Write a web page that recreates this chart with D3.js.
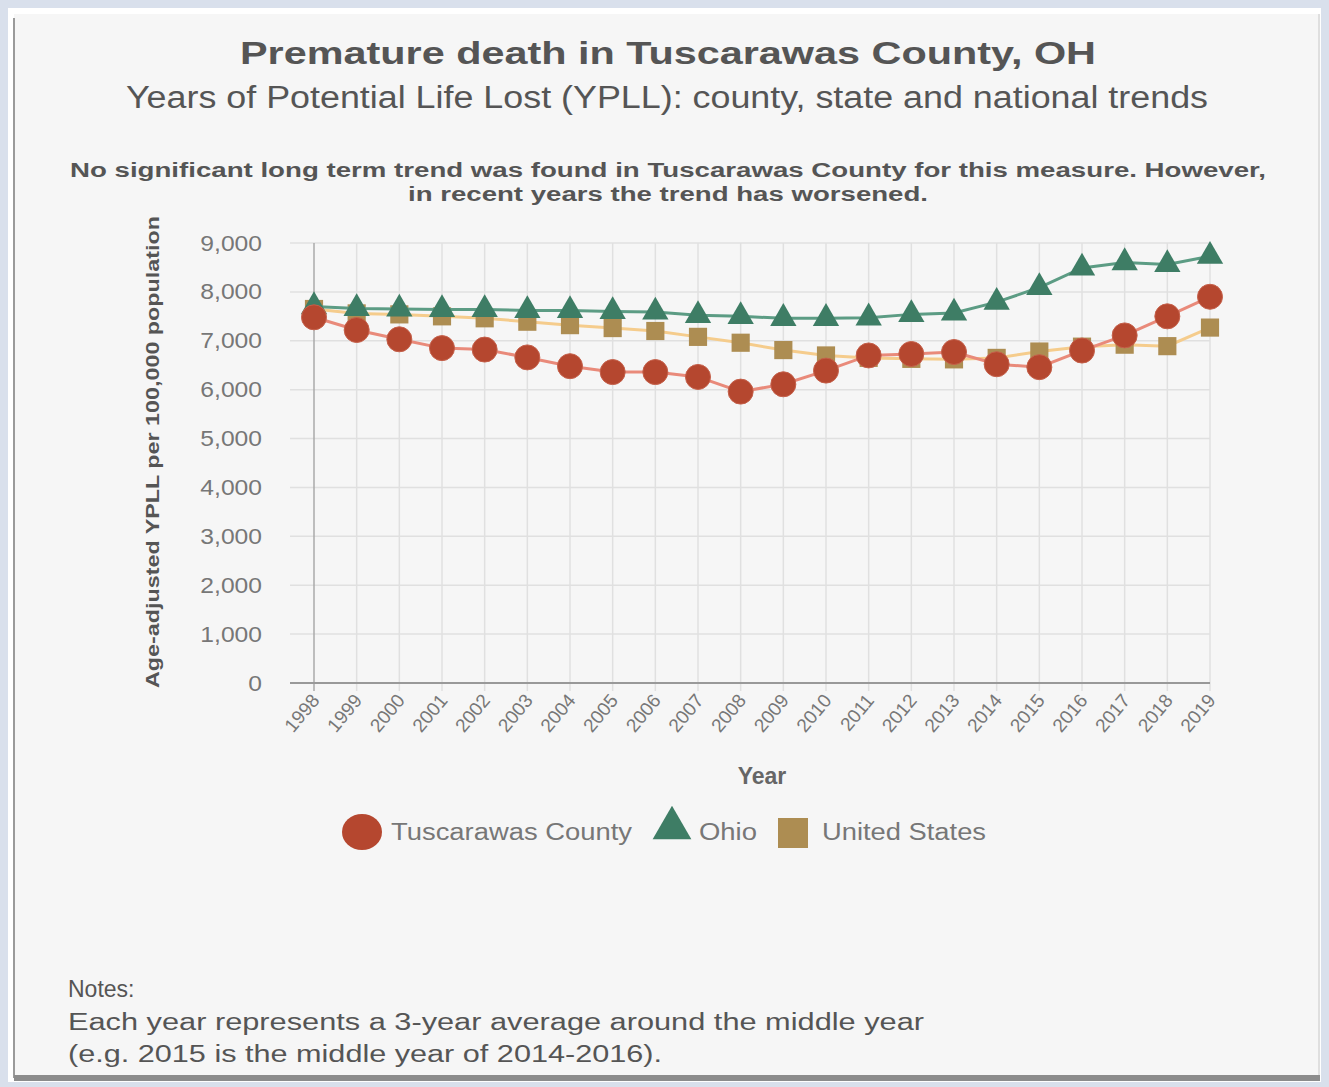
<!DOCTYPE html>
<html>
<head>
<meta charset="utf-8">
<script src="https://cdn.jsdelivr.net/npm/d3@7"></script>
<style>
  body { margin: 0; background: #d9e0ec; }
  svg { display: block; }
  text { font-family: "Liberation Sans", Arial, sans-serif; }
</style>
</head>
<body>
<svg id="chart" width="1329" height="1087"></svg>
<script>
// data
var years = [1998,1999,2000,2001,2002,2003,2004,2005,2006,2007,2008,2009,2010,2011,2012,2013,2014,2015,2016,2017,2018,2019];
var county = [7480,7220,7030,6850,6820,6660,6480,6360,6360,6260,5960,6110,6390,6700,6730,6770,6520,6460,6800,7110,7500,7900];
var ohio   = [7700,7660,7650,7640,7640,7620,7620,7600,7590,7520,7500,7460,7460,7470,7540,7570,7790,8090,8490,8600,8560,8730];
var usa    = [7650,7560,7540,7500,7460,7390,7320,7260,7200,7080,6960,6810,6700,6650,6630,6620,6650,6780,6880,6920,6890,7270];
var yTicks = [0,1000,2000,3000,4000,5000,6000,7000,8000,9000];
var seriesNames = ["Tuscarawas County","Ohio","United States"];

var svg = d3.select("#chart");

// panel / frame
svg.append("rect").attr("x",8).attr("y",8).attr("width",1313).attr("height",1074).attr("fill","#ffffff");
svg.append("rect").attr("x",14).attr("y",14).attr("width",1304).attr("height",1064).attr("fill","#f6f6f6");
svg.append("line").attr("x1",14).attr("x2",14).attr("y1",18).attr("y2",1078).attr("stroke","#9a9a9a").attr("stroke-width",2);
svg.append("line").attr("x1",1319).attr("x2",1319).attr("y1",14).attr("y2",1078).attr("stroke","#d4d4d4").attr("stroke-width",1.5);
svg.append("rect").attr("x",14).attr("y",1075).attr("width",1306).attr("height",6).attr("fill","#8c8c8c");

// titles
svg.append("text").attr("x",668).attr("y",64).attr("text-anchor","middle")
   .attr("font-size","32px").attr("font-weight","bold").attr("fill","#555")
   .attr("textLength",856).attr("lengthAdjust","spacingAndGlyphs")
   .text("Premature death in Tuscarawas County, OH");
svg.append("text").attr("x",667).attr("y",108).attr("text-anchor","middle")
   .attr("font-size","31px").attr("fill","#555")
   .attr("textLength",1082).attr("lengthAdjust","spacingAndGlyphs")
   .text("Years of Potential Life Lost (YPLL): county, state and national trends");
svg.append("text").attr("x",668).attr("y",177).attr("text-anchor","middle")
   .attr("font-size","20px").attr("font-weight","bold").attr("fill","#555")
   .attr("textLength",1196).attr("lengthAdjust","spacingAndGlyphs")
   .text("No significant long term trend was found in Tuscarawas County for this measure. However,");
svg.append("text").attr("x",668).attr("y",201).attr("text-anchor","middle")
   .attr("font-size","20px").attr("font-weight","bold").attr("fill","#555")
   .attr("textLength",520).attr("lengthAdjust","spacingAndGlyphs")
   .text("in recent years the trend has worsened.");

// scales
var x = d3.scalePoint().domain(years).range([314,1210]);
var y = d3.scaleLinear().domain([0,9000]).range([683,243]);

// grid
svg.append("g").selectAll("line").data(yTicks).join("line")
   .attr("x1",290).attr("x2",1210)
   .attr("y1",d=>y(d)).attr("y2",d=>y(d))
   .attr("stroke","#e0e0e0").attr("stroke-width",1.5);
svg.append("g").selectAll("line").data(years).join("line")
   .attr("x1",d=>x(d)).attr("x2",d=>x(d))
   .attr("y1",y(9000)).attr("y2",y(0)+8)
   .attr("stroke",(d,i)=> i==0 ? "#aaa" : "#e0e0e0").attr("stroke-width",1.5);

// y axis
var yAxis = svg.append("g").attr("transform","translate(290,0)")
   .call(d3.axisLeft(y).tickValues(yTicks).tickFormat(d3.format(",")).tickSize(0).tickPadding(28));
yAxis.select(".domain").remove();
yAxis.selectAll("text").attr("font-size","22px").attr("fill","#777").attr("font-family","Liberation Sans, Arial")
   .attr("textLength",function(d){ return this.getComputedTextLength() * 1.12; })
   .attr("lengthAdjust","spacingAndGlyphs");

// x axis
var xAxis = svg.append("g").attr("transform","translate(0," + y(0) + ")")
   .call(d3.axisBottom(x).tickSize(0).tickPadding(0));
xAxis.select(".domain").remove();
xAxis.selectAll("text")
   .attr("font-size","19px").attr("fill","#777").attr("font-family","Liberation Sans, Arial")
   .attr("text-anchor","end").attr("dy","0")
   .attr("transform","translate(6,18) rotate(-50)");
svg.append("line").attr("x1",290).attr("x2",1210).attr("y1",y(0)).attr("y2",y(0))
   .attr("stroke","#999").attr("stroke-width",2);

// axis titles
svg.append("text").attr("transform","translate(159,452) rotate(-90)").attr("text-anchor","middle")
   .attr("font-size","19px").attr("font-weight","bold").attr("fill","#555")
   .attr("textLength",472).attr("lengthAdjust","spacingAndGlyphs")
   .text("Age-adjusted YPLL per 100,000 population");
svg.append("text").attr("x",762).attr("y",784).attr("text-anchor","middle")
   .attr("font-size","23px").attr("font-weight","bold").attr("fill","#666")
   .text("Year");

// series
var line = d3.line().x((d,i)=>x(years[i])).y(d=>y(d));
var colors = {
  county: {line:"#e98a7a", mark:"#b5472f"},
  ohio:   {line:"#5c9c84", mark:"#3e7d65"},
  usa:    {line:"#f5cc8c", mark:"#ad8d52"}
};

svg.append("path").datum(usa).attr("d",line).attr("fill","none").attr("stroke",colors.usa.line).attr("stroke-width",3);
svg.append("g").selectAll("path").data(usa).join("path")
   .attr("transform",(d,i)=>"translate(" + x(years[i]) + "," + y(d) + ")")
   .attr("d",d3.symbol(d3.symbolSquare,330)).attr("fill",colors.usa.mark);

svg.append("path").datum(ohio).attr("d",line).attr("fill","none").attr("stroke",colors.ohio.line).attr("stroke-width",3);
svg.append("g").selectAll("path").data(ohio).join("path")
   .attr("transform",(d,i)=>"translate(" + x(years[i]) + "," + y(d) + ")")
   .attr("d",d3.symbol(d3.symbolTriangle,300)).attr("fill",colors.ohio.mark);

svg.append("path").datum(county).attr("d",line).attr("fill","none").attr("stroke",colors.county.line).attr("stroke-width",3);
svg.append("g").selectAll("circle").data(county).join("circle")
   .attr("cx",(d,i)=>x(years[i])).attr("cy",d=>y(d)).attr("r",12.5)
   .attr("fill",colors.county.mark).attr("stroke","#c5604a").attr("stroke-width",1);

// legend
var lg = svg.append("g");
lg.append("ellipse").attr("cx",362).attr("cy",832).attr("rx",20).attr("ry",18).attr("fill",colors.county.mark);
lg.append("text").attr("x",391).attr("y",840).attr("font-size","23px").attr("fill","#777")
   .attr("textLength",241).attr("lengthAdjust","spacingAndGlyphs").text(seriesNames[0]);
lg.append("path").attr("transform","translate(672,828)").attr("d",d3.symbol(d3.symbolTriangle,650)).attr("fill",colors.ohio.mark);
lg.append("text").attr("x",699).attr("y",840).attr("font-size","23px").attr("fill","#777")
   .attr("textLength",58).attr("lengthAdjust","spacingAndGlyphs").text(seriesNames[1]);
lg.append("rect").attr("x",778).attr("y",818).attr("width",30).attr("height",30).attr("fill",colors.usa.mark);
lg.append("text").attr("x",822).attr("y",840).attr("font-size","23px").attr("fill","#777")
   .attr("textLength",164).attr("lengthAdjust","spacingAndGlyphs").text(seriesNames[2]);

// notes
svg.append("text").attr("x",68).attr("y",997).attr("font-size","23px").attr("fill","#555").text("Notes:");
svg.append("text").attr("x",68).attr("y",1030).attr("font-size","23px").attr("fill","#555")
   .attr("textLength",856).attr("lengthAdjust","spacingAndGlyphs")
   .text("Each year represents a 3-year average around the middle year");
svg.append("text").attr("x",68).attr("y",1062).attr("font-size","23px").attr("fill","#555")
   .attr("textLength",594).attr("lengthAdjust","spacingAndGlyphs")
   .text("(e.g. 2015 is the middle year of 2014-2016).");
</script>
</body>
</html>
